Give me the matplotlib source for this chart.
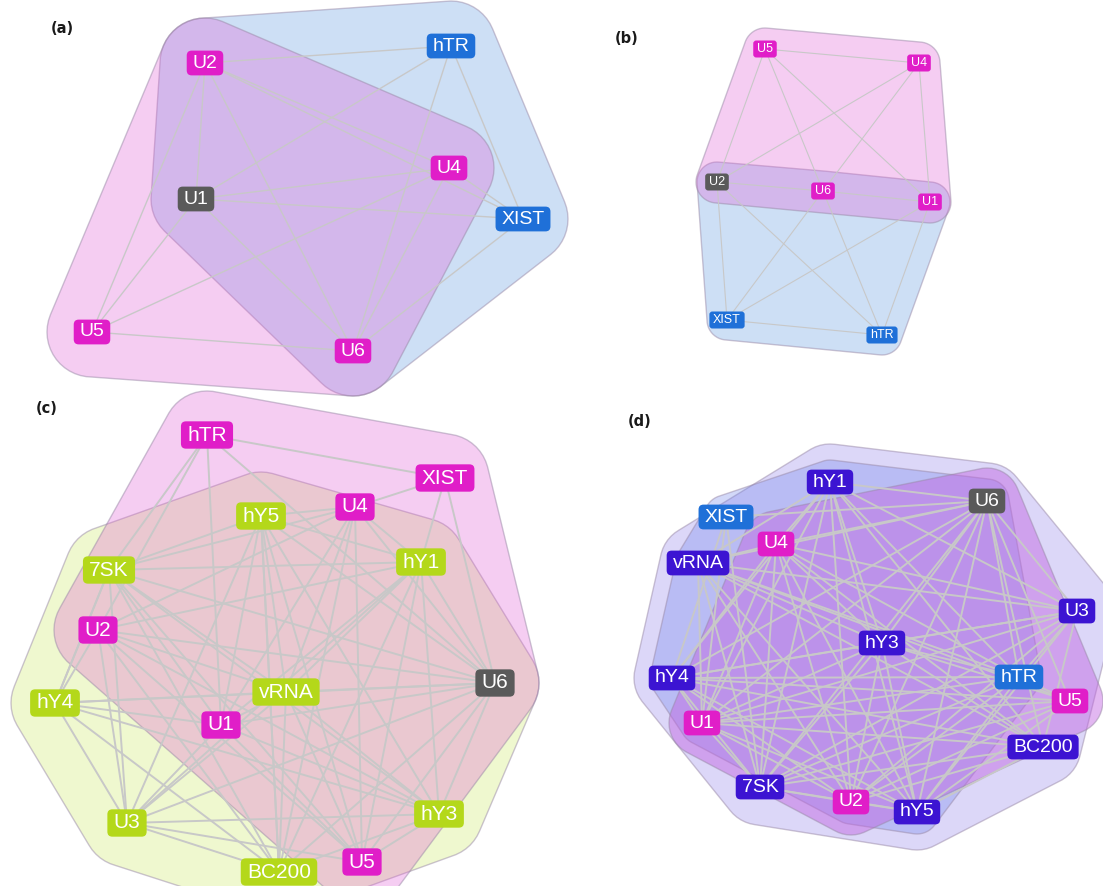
import numpy as np
import matplotlib.pyplot as plt
from matplotlib.colors import to_rgba
from matplotlib.patches import Polygon, FancyBboxPatch

plt.rcParams['font.family'] = ['Liberation Sans', 'DejaVu Sans']

W, H = 1103, 886

PINK = '#e01ec8'
BLUE = '#1f70d8'
GRAY = '#5a5a5a'
LIME = '#b4d81a'
INDIGO = '#3c14d2'
LINE = '#c8c8c8'

# ---- (a) ----
a_names = ['U2', 'hTR', 'U4', 'U1', 'XIST', 'U5', 'U6']
a_x = [205, 451, 449, 196, 523, 92, 353]
a_y = [63, 46, 168, 199, 219, 332, 351]
a_col = [PINK, BLUE, PINK, GRAY, BLUE, PINK, PINK]
a_links = {
    'U2': ['hTR', 'U4', 'XIST', 'U1', 'U5', 'U6'],
    'hTR': ['U1', 'U6', 'XIST'],
    'U4': ['U1', 'U5', 'U6', 'XIST'],
    'U1': ['XIST', 'U5', 'U6'],
    'U5': ['U6'],
    'XIST': ['U6'],
}
a_groups = [
    ['U2', 'hTR', 'XIST', 'U6', 'U1', 'U4'],
    ['U2', 'U4', 'U6', 'U5', 'U1'],
]

# ---- (b) ----
b_names = ['U5', 'U4', 'U2', 'U6', 'U1', 'XIST', 'hTR']
b_x = [765, 919, 717, 823, 930, 727, 882]
b_y = [49, 63, 182, 191, 202, 320, 335]
b_col = [PINK, PINK, GRAY, PINK, PINK, BLUE, BLUE]
b_links = {
    'U5': ['U4', 'U2', 'U6', 'U1'],
    'U4': ['U2', 'U6', 'U1'],
    'U2': ['U6', 'XIST', 'hTR'],
    'U6': ['U1', 'XIST', 'hTR'],
    'U1': ['XIST', 'hTR'],
    'XIST': ['hTR'],
}
b_groups = [
    ['U2', 'U6', 'U1', 'XIST', 'hTR'],
    ['U5', 'U4', 'U2', 'U6', 'U1'],
]

# ---- (c) ----
c_names = ['hTR', 'XIST', 'U4', 'hY5', 'hY1', '7SK', 'U2', 'U6', 'vRNA',
           'hY4', 'U1', 'hY3', 'U3', 'U5', 'BC200']
c_x = [207, 445, 355, 261, 421, 109, 98, 495, 286, 55, 221, 439, 127, 362, 279]
c_y = [435, 478, 507, 516, 562, 570, 630, 683, 692, 703, 725, 814, 823, 862, 872]
c_col = [PINK, PINK, PINK, LIME, LIME, LIME, PINK, GRAY, LIME,
         LIME, PINK, LIME, LIME, PINK, LIME]
c_links = {
    'hTR': ['XIST', '7SK', 'U2', 'U1', 'U6'],
    '7SK': ['hY5', 'U4', 'hY1', 'U6', 'vRNA', 'U1', 'hY3', 'U3', 'BC200', 'hY4', 'U5'],
    'U2': ['U4', 'hY1', 'U6', 'hY4', 'U3', 'hY3', 'BC200', 'U5', 'vRNA'],
    'hY4': ['7SK', 'vRNA', 'U6', 'U3', 'BC200', 'hY3', 'U1'],
    'U3': ['U1', 'vRNA', 'hY1', 'hY3', 'BC200', 'U5', 'hY5', 'U6'],
    'BC200': ['vRNA', 'hY5', 'U6', 'hY3', 'hY1', 'U4'],
    'hY5': ['U4', 'hY1', 'U6', 'vRNA', 'BC200', 'U5', 'hY3', 'U1'],
    'U4': ['XIST', 'hY1', 'U5', 'U6', 'vRNA', 'U1'],
    'XIST': ['hY1', 'U6'],
    'hY1': ['U6', 'hY3', 'vRNA', 'U1', 'U5'],
    'vRNA': ['U6', 'U1', 'hY3', 'U5'],
    'U6': ['U1', 'hY3', 'U5'],
    'U1': ['hY3', 'U5'],
    'hY3': ['U5'],
}
c_groups = [
    ['7SK', 'hY5', 'hY1', 'hY4', 'vRNA', 'U3', 'BC200', 'hY3', 'U6'],
    ['hTR', 'XIST', 'U4', 'U2', 'U1', 'U5', 'U6'],
]

# ---- (d) ----
d_names = ['hY1', 'U6', 'XIST', 'U4', 'vRNA', 'U3', 'hY3', 'hY4', 'hTR',
           'U5', 'U1', 'BC200', '7SK', 'U2', 'hY5']
d_x = [830, 987, 726, 776, 698, 1077, 882, 672, 1019, 1070, 702, 1043, 760, 851, 917]
d_y = [482, 501, 517, 544, 563, 611, 643, 678, 677, 701, 723, 747, 787, 802, 812]
d_col = [INDIGO, GRAY, BLUE, PINK, INDIGO, INDIGO, INDIGO, INDIGO, BLUE,
         PINK, PINK, INDIGO, INDIGO, PINK, INDIGO]
d_links = {
    'hY1': ['U6', 'U4', 'vRNA', 'hY3', 'hY4', 'U1', '7SK', 'U2', 'hY5', 'hTR', 'BC200', 'U3'],
    'U6': ['XIST', 'U4', 'vRNA', 'hY3', 'hY4', 'U1', '7SK', 'U2', 'hY5', 'BC200', 'hTR', 'U3', 'U5'],
    'XIST': ['hY4', 'U1', '7SK'],
    'U4': ['vRNA', 'hY3', 'hY4', 'U1', '7SK', 'U2', 'hY5', 'hTR', 'U3', 'BC200'],
    'vRNA': ['hY3', 'U1', '7SK', 'U2', 'hY5', 'hTR', 'U3', 'BC200', 'U5'],
    'U3': ['hY3', 'hY4', 'hTR', 'U1', '7SK', 'U2', 'hY5', 'BC200'],
    'hY3': ['hY4', 'U1', '7SK', 'U2', 'hY5', 'hTR', 'BC200', 'U5'],
    'hY4': ['U1', '7SK', 'U2', 'hY5', 'hTR', 'BC200', 'U5'],
    'hTR': ['U1', '7SK', 'U2', 'hY5', 'U5'],
    'U5': ['U1', '7SK', 'U2', 'hY5'],
    'U1': ['7SK', 'U2', 'hY5', 'BC200'],
    'BC200': ['7SK', 'U2', 'hY5'],
    '7SK': ['U2', 'hY5'],
    'U2': ['hY5'],
}
d_groups = [
    ['hY1', 'U6', 'vRNA', 'U3', 'hY3', 'hY4', 'BC200', '7SK', 'hY5'],
    ['XIST', 'hY1', 'U6', 'hTR', 'hY5', 'U2', 'U1', 'hY4', 'vRNA'],
    ['U4', 'U6', 'U5', 'U2', 'U1'],
]

# hull styles per panel: (fill colour, alpha, padding in px), same order as the groups
hull_a = [('#5c98e1', 0.3, 45), ('#e15cd4', 0.3, 45)]
hull_b = [('#5c98e1', 0.3, 20), ('#e15cd4', 0.3, 21)]
hull_c = [('#cde862', 0.3, 44), ('#e15cd4', 0.3, 44)]
hull_d = [('#8470e8', 0.28, 38), ('#6a80eb', 0.3, 22), ('#c060e0', 0.45, 33)]

panels = [
    ('(a)', (62, 28), a_names, a_x, a_y, a_col, a_links, a_groups, hull_a, 14, 1.0, 5),
    ('(b)', (627, 38), b_names, b_x, b_y, b_col, b_links, b_groups, hull_b, 9, 0.8, 3),
    ('(c)', (47, 408), c_names, c_x, c_y, c_col, c_links, c_groups, hull_c, 15, 1.4, 5),
    ('(d)', (640, 421), d_names, d_x, d_y, d_col, d_links, d_groups, hull_d, 14, 1.4, 5),
]


def convex_hull(pts):
    pts = sorted(set(map(tuple, np.round(pts, 3))))

    def cross(o, a, b):
        return (a[0] - o[0]) * (b[1] - o[1]) - (a[1] - o[1]) * (b[0] - o[0])

    lower, upper = [], []
    for p in pts:
        while len(lower) >= 2 and cross(lower[-2], lower[-1], p) <= 0:
            lower.pop()
        lower.append(p)
    for p in reversed(pts):
        while len(upper) >= 2 and cross(upper[-2], upper[-1], p) <= 0:
            upper.pop()
        upper.append(p)
    return np.array(lower[:-1] + upper[:-1])


def group_outline(xs, ys, pad):
    t = np.linspace(0, 2 * np.pi, 48, endpoint=False)
    pts = [(x + pad * np.cos(a), y + pad * np.sin(a)) for x, y in zip(xs, ys) for a in t]
    return convex_hull(pts)


fig = plt.figure(figsize=(W / 100, H / 100), dpi=100)
ax = fig.add_axes([0, 0, 1, 1])
ax.set_xlim(0, W)
ax.set_ylim(H, 0)
ax.axis('off')

labels = []
for tag, tag_xy, names, xs, ys, cols, links, groups, hulls, fs, lw, rnd in panels:
    pos = {n: (x, y) for n, x, y in zip(names, xs, ys)}
    for members, (fill, alpha, pad) in zip(groups, hulls):
        outline = group_outline([pos[m][0] for m in members], [pos[m][1] for m in members], pad)
        ax.add_patch(Polygon(outline, closed=True, fc=to_rgba(fill, alpha),
                             ec=to_rgba('#9a8aa8', 0.5), lw=1.0, zorder=1))
    for src, dsts in links.items():
        for dst in dsts:
            (x0, y0), (x1, y1) = pos[src], pos[dst]
            ax.plot([x0, x1], [y0, y1], color=LINE, lw=lw, zorder=2,
                    solid_capstyle='round')
    for n, x, y, c in zip(names, xs, ys, cols):
        t = ax.text(x, y, n, color='white', fontsize=fs, ha='center', va='center',
                    zorder=5)
        labels.append((t, c, fs, rnd))
    ax.text(*tag_xy, tag, fontsize=10.5, fontweight='bold', family='DejaVu Sans',
            ha='center', va='center', color='#1a1a1a')

# rounded label boxes sized from the rendered text
fig.canvas.draw()
renderer = fig.canvas.get_renderer()
inv = ax.transData.inverted()
for t, c, fs, rnd in labels:
    bb = t.get_window_extent(renderer)
    (x0, y0), (x1, y1) = inv.transform([[bb.x0, bb.y0], [bb.x1, bb.y1]])
    px = fs * 100 / 72
    padx, pady = 0.3 * px, 0.2 * px
    lo_y, hi_y = min(y0, y1), max(y0, y1)
    ax.add_patch(FancyBboxPatch((x0 - padx, lo_y - pady), (x1 - x0) + 2 * padx,
                                (hi_y - lo_y) + 2 * pady,
                                boxstyle=f'round,pad=0,rounding_size={rnd}',
                                fc=c, ec='none', zorder=4))

fig.savefig('out.png', dpi=100)
